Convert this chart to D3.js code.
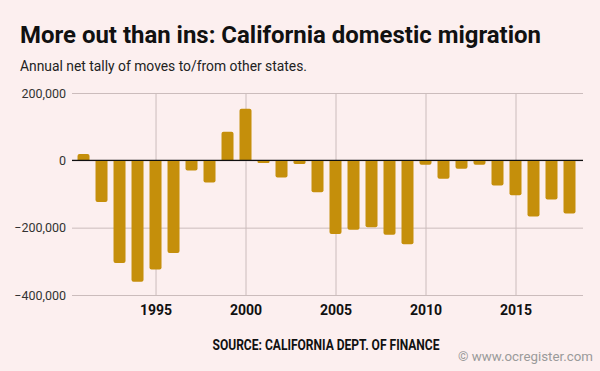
<!DOCTYPE html>
<html>
<head>
<meta charset="utf-8">
<script src="https://cdn.jsdelivr.net/npm/d3@7"></script>
<style>
  html, body { margin: 0; padding: 0; background: #fcefef; }
  svg { display: block; font-family: Roboto, sans-serif; }
</style>
</head>
<body>
<div id="chart"></div>
<script>
// net domestic migration, California, by year
var years = [1991, 1992, 1993, 1994, 1995, 1996, 1997, 1998, 1999, 2000,
             2001, 2002, 2003, 2004, 2005, 2006, 2007, 2008, 2009, 2010,
             2011, 2012, 2013, 2014, 2015, 2016, 2017, 2018];
var netMoves = [19000, -124000, -305000, -361000, -324000, -275000, -30000, -66000, 85000, 153000,
                -8000, -51000, -11000, -95000, -219000, -206000, -199000, -221000, -249000, -13000,
                -55000, -25000, -13000, -75000, -104000, -167000, -116000, -158000];
var yTicks = [200000, 0, -200000, -400000];
var xTicks = [1995, 2000, 2005, 2010, 2015];

var width = 600, height = 371;
var margin = {top: 93, right: 17, bottom: 76, left: 72};

var svg = d3.select("#chart").append("svg")
  .attr("width", width)
  .attr("height", height);

svg.append("rect")
  .attr("width", width).attr("height", height)
  .attr("fill", "#fcefef");

// titles
svg.append("text")
  .attr("x", 20).attr("y", 42.5)
  .attr("font-size", 24.5).attr("font-weight", "bold")
  .attr("fill", "#111")
  .attr("textLength", 521).attr("lengthAdjust", "spacingAndGlyphs")
  .text("More out than ins: California domestic migration");

svg.append("text")
  .attr("x", 20).attr("y", 70.5)
  .attr("font-size", 14)
  .attr("fill", "#222")
  .attr("textLength", 287).attr("lengthAdjust", "spacingAndGlyphs")
  .text("Annual net tally of moves to/from other states.");

var x = d3.scaleLinear()
  .domain([1990.36, 2018.75])
  .range([margin.left, width - margin.right]);

var y = d3.scaleLinear()
  .domain([-400000, 200000])
  .range([height - margin.bottom, margin.top]);

// horizontal grid + y labels
svg.append("g")
  .call(d3.axisLeft(y).tickValues(yTicks).tickSize(0).tickPadding(6).tickFormat(d3.format(",")))
  .attr("transform", `translate(${margin.left},0)`)
  .call(g => g.select(".domain").remove())
  .call(g => g.selectAll(".tick text")
    .attr("font-family", "Roboto, sans-serif")
    .attr("font-size", 12.5)
    .attr("fill", "#333"))
  .call(g => g.selectAll(".tick line")
    .attr("x2", width - margin.right - margin.left)
    .attr("stroke", "#cbbcbc"));

// vertical grid + x labels
svg.append("g")
  .attr("transform", `translate(0,${height - margin.bottom})`)
  .call(d3.axisBottom(x).tickValues(xTicks).tickSize(0).tickPadding(10).tickFormat(d3.format("d")))
  .call(g => g.select(".domain").remove())
  .call(g => g.selectAll(".tick text")
    .attr("font-family", "Roboto, sans-serif")
    .attr("font-size", 14)
    .attr("font-weight", "bold")
    .attr("fill", "#111"))
  .call(g => g.selectAll(".tick line")
    .attr("y2", -(height - margin.bottom - margin.top))
    .attr("stroke", "#cbbcbc"));

// bars, rounded at the outer end
var barW = 12, r = 2;
svg.append("g")
  .selectAll("path")
  .data(years)
  .enter().append("path")
  .attr("fill", "#c58f0b")
  .attr("d", function(d, i) {
    var v = netMoves[i];
    var x0 = x(d) - barW / 2, x1 = x(d) + barW / 2;
    var y0 = y(0), y1 = y(v);
    var rr = Math.min(r, Math.abs(y1 - y0) / 2);
    var s = v < 0 ? 1 : -1;
    return "M" + x0 + "," + y0 +
      "L" + x0 + "," + (y1 - s * rr) +
      "Q" + x0 + "," + y1 + "," + (x0 + rr) + "," + y1 +
      "L" + (x1 - rr) + "," + y1 +
      "Q" + x1 + "," + y1 + "," + x1 + "," + (y1 - s * rr) +
      "L" + x1 + "," + y0 + "Z";
  });

// zero line
svg.append("line")
  .attr("x1", margin.left).attr("x2", width - margin.right)
  .attr("y1", y(0)).attr("y2", y(0))
  .attr("stroke", "#111").attr("stroke-width", 1.2);

svg.append("text")
  .attr("x", 212.5).attr("y", 350)
  .attr("font-size", 14).attr("font-weight", "bold")
  .attr("fill", "#111")
  .attr("textLength", 227).attr("lengthAdjust", "spacingAndGlyphs")
  .text("SOURCE: CALIFORNIA DEPT. OF FINANCE");

svg.append("text")
  .attr("x", 458).attr("y", 361)
  .attr("font-size", 12)
  .attr("fill", "#9a9a9a")
  .attr("textLength", 135).attr("lengthAdjust", "spacingAndGlyphs")
  .text("© www.ocregister.com");
</script>
</body>
</html>
